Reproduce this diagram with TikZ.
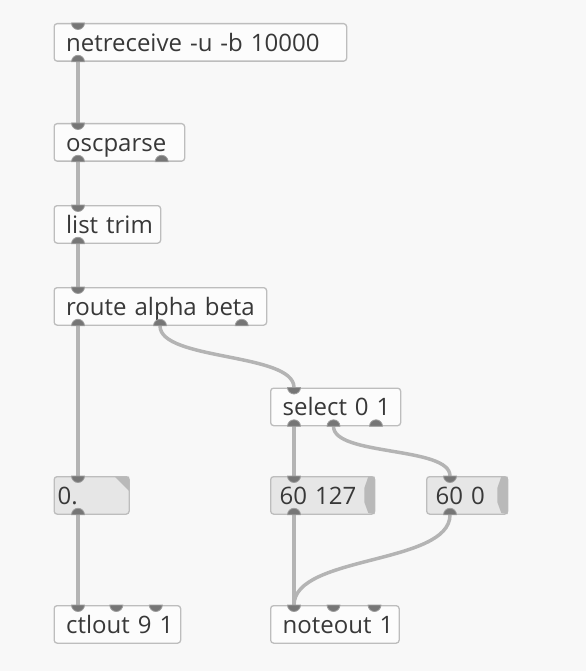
\documentclass[tikz,border=0pt]{standalone}
\usepackage{fontspec}
\setmainfont{Open Sans}
\usetikzlibrary{calc}
\definecolor{patchbg}{HTML}{F8F8F8}
\definecolor{objfill}{HTML}{FCFCFC}
\definecolor{msgfill}{HTML}{E6E6E6}
\definecolor{boxline}{HTML}{BDBDBD}
\definecolor{pdtext}{HTML}{383838}
\definecolor{wirecol}{HTML}{B4B4B4}
\definecolor{portcol}{HTML}{767676}
\definecolor{portrim}{HTML}{9E9E9E}
\definecolor{flagcol}{HTML}{B9B9B9}
\tikzset{
  pdbox/.style={draw=boxline, fill=objfill, line width=1.3pt, rounded corners=3pt, anchor=north west,
    minimum height=37.5pt, inner ysep=0pt, inner xsep=12pt, text height=18pt, text depth=0.6pt,
    align=left, text=pdtext, font=\fontsize{24}{26}\selectfont},
  pdmsg/.style={pdbox, fill=msgfill, inner xsep=9pt},
  pdatom/.style={pdbox, fill=msgfill, inner xsep=3.5pt},
  wire/.style={draw=wirecol, line width=3.5pt},
  port/.style={fill=portcol, draw=portrim, line width=0.8pt},
  flag/.style={fill=flagcol},
}

\begin{document}
\begin{tikzpicture}[x=1pt, y=-1pt]
\fill[patchbg] (0,0) rectangle (586,671);
\useasboundingbox (0,0) rectangle (586,671);

% objects of the patch
\node[pdbox, text width=268.5pt] (nr) at (53.5,23) {\mbox{netreceive -u -b 10000}};
\node[pdbox, text width=106.5pt] (osc) at (53.5,123) {\mbox{oscparse}};
\node[pdbox, text width=82.5pt] (lt) at (53.5,205) {\mbox{list trim}};
\node[pdbox, text width=188.5pt] (rt) at (53.5,287) {\mbox{route alpha beta}};
\node[pdbox, text width=106pt] (sel) at (270,387.5) {\mbox{select 0 1}};
\node[pdatom, text width=68pt] (fa) at (53.5,476) {\mbox{0.}};
\node[pdmsg, text width=86pt] (m1) at (270,476) {\mbox{60 127}};
\node[pdmsg, text width=63pt] (m2) at (426,476) {\mbox{60 0}};
\node[pdbox, text width=102.5pt] (ctl) at (53.5,605) {\mbox{ctlout 9 1}};
\node[pdbox, text width=104.5pt] (note) at (270,605) {\mbox{noteout 1}};

% message flags and atom corner
\foreach \m in {m1,m2}
  \fill[flag] ([xshift=-7pt, yshift=-0.6pt]\m.north east) -- ++(-4,11.5) -- ++(0,14) -- ++(4,11)
    -- ([xshift=-0.6pt, yshift=0.6pt]\m.south east) -- ([xshift=-0.6pt, yshift=-0.6pt]\m.north east) -- cycle;
\fill[flag] ([xshift=-15pt, yshift=-0.6pt]fa.north east) -- ([xshift=-0.6pt, yshift=-0.6pt]fa.north east)
  -- ([xshift=-0.6pt, yshift=-15pt]fa.north east) -- cycle;

% straight wires
\draw[wire] ([xshift=24.5pt]nr.south west) -- ([xshift=24.5pt]osc.north west);
\draw[wire] ([xshift=24.5pt]osc.south west) -- ([xshift=24.5pt]lt.north west);
\draw[wire] ([xshift=24.5pt]lt.south west) -- ([xshift=24.5pt]rt.north west);
\draw[wire] ([xshift=24.5pt]rt.south west) -- ([xshift=24.5pt]fa.north west);
\draw[wire] ([xshift=24.5pt]fa.south west) -- ([xshift=24.5pt]ctl.north west);
\draw[wire] ([xshift=24pt]sel.south west) -- ([xshift=24pt]m1.north west);
\draw[wire] ([xshift=24pt]m1.south west) -- ([xshift=24pt]note.north west);

% curved wires
\draw[wire] ([xshift=106.5pt]rt.south west) .. controls +(0,35) and +(0,-35) .. ([xshift=24pt]sel.north west);
\draw[wire] ([xshift=63.5pt]sel.south west) .. controls +(0,30) and +(0,-30) .. ([xshift=24pt]m2.north west);
\draw[wire] ([xshift=24pt]m2.south west) .. controls +(0,50) and +(0,-50) .. ([xshift=24pt]note.north west);

% inlets
\foreach \n/\dx in {nr/24.5, osc/24.5, lt/24.5, rt/24.5, sel/24, fa/24.5, m1/24, m2/24,
    ctl/24.5, ctl/62.8, ctl/102.3, note/24, note/63.5, note/104.5}
  \draw[port] ([xshift=\dx pt - 6.5pt]\n.north west) arc[start angle=180, end angle=360, radius=6.5pt] -- cycle;
% outlets
\foreach \n/\dx in {nr/24.5, osc/24.5, osc/108.2, lt/24.5, rt/24.5, rt/106.5, rt/188.2,
    sel/24, sel/63.5, sel/106, fa/24.5, m1/24, m2/24}
  \draw[port] ([xshift=\dx pt - 6.5pt]\n.south west) arc[start angle=180, end angle=0, radius=6.5pt] -- cycle;
\end{tikzpicture}
\end{document}
